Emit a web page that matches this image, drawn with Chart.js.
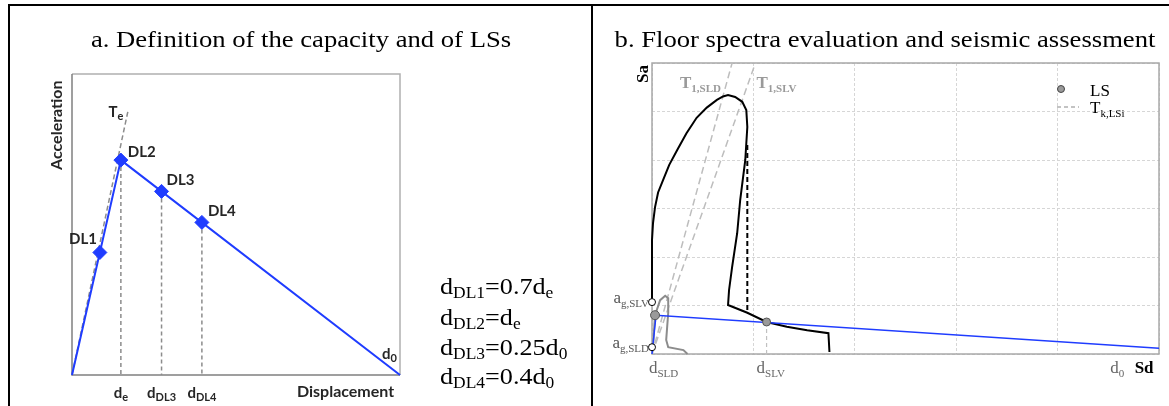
<!DOCTYPE html>
<html>
<head>
<meta charset="utf-8">
<script src="https://cdn.jsdelivr.net/npm/chart.js@4.4.0/dist/chart.umd.min.js"></script>
<style>
  html, body { margin: 0; padding: 0; background: #fff; }
  #page { position: relative; width: 1169px; height: 406px; overflow: hidden; }
  canvas { position: absolute; top: 0; }
  .rule { position: absolute; background: #000; z-index: 2; }
  .title, .eq { position: absolute; font-family: "Liberation Serif", serif; font-size: 24px; line-height: 24px; white-space: nowrap; color: #000; z-index: 2; }
  .title { width: 600px; text-align: center; transform: scaleX(1.11); transform-origin: 50% 50%; }
  .eq { left: 440px; font-size: 24px; transform: scaleX(1.09); transform-origin: 0 50%; }
  .eq span { font-size: 16px; position: relative; top: 4px; }
</style>
</head>
<body>
<div id="page">
  <canvas id="chartA" width="592" height="406" style="left:0"></canvas>
  <canvas id="chartB" width="577" height="406" style="left:592px"></canvas>
  <div class="rule" style="left:8px;top:4px;width:1161px;height:2px"></div>
  <div class="rule" style="left:8px;top:4px;width:2px;height:402px"></div>
  <div class="rule" style="left:591px;top:4px;width:2px;height:402px"></div>
  <div class="title" style="left:1px;top:27px">a. Definition of the capacity and of LSs</div>
  <div class="title" style="left:585px;top:27px">b. Floor spectra evaluation and seismic assessment</div>
  <div class="eq" style="top:274px">d<span>DL1</span>=0.7d<span>e</span></div>
  <div class="eq" style="top:305px">d<span>DL2</span>=d<span>e</span></div>
  <div class="eq" style="top:335px">d<span>DL3</span>=0.25d<span>0</span></div>
  <div class="eq" style="top:364px">d<span>DL4</span>=0.4d<span>0</span></div>
</div>
<script>
// --- panel a: capacity curve, normalised (d0 = 1) ---
const capX = [0, 0.149, 1];
const capY = [0, 0.714, 0];
const teX = [0, 0.172];
const teY = [0, 0.884];
const dlNames = ['DL1', 'DL2', 'DL3', 'DL4'];
const dlX = [0.085, 0.149, 0.273, 0.396];
const dlY = [0.407, 0.714, 0.610, 0.507];
const dropIdx = [1, 2, 3];
const aTickX = [0.149, 0.273, 0.396];
const aTickSub = ['e', 'DL3', 'DL4'];

// --- panel b: floor spectra (grid units) ---
const slvX = [0, 0, 0.01, 0.03, 0.06, 0.11, 0.17, 0.25, 0.34, 0.44, 0.54, 0.64, 0.70, 0.75, 0.82, 0.89, 0.93, 0.94, 0.92, 0.87, 0.84, 0.79, 0.76, 0.75, 0.94, 1.13, 1.33, 1.53, 1.74, 1.75];
const slvY = [1.07, 2.35, 2.70, 3.03, 3.33, 3.59, 3.90, 4.21, 4.55, 4.87, 5.08, 5.24, 5.31, 5.34, 5.30, 5.20, 5.03, 4.68, 4.00, 3.18, 2.49, 1.79, 1.32, 1.01, 0.85, 0.66, 0.56, 0.49, 0.43, 0.04];
const slvDashX = [0.94, 0.94];
const slvDashY = [4.31, 0.85];
const sldX = [0.01, 0.02, 0.03, 0.08, 0.13, 0.16, 0.16, 0.14, 0.16, 0.31, 0.35];
const sldY = [0.14, 0.49, 0.80, 1.11, 1.20, 1.15, 0.85, 0.29, 0.14, 0.08, 0.0];
const capBX = [0, 0.04, 5];
const capBY = [0, 0.80, 0.12];
const t1SldX = [0, 0.79];
const t1SldY = [0, 6];
const t1SlvX = [0, 1.02];
const t1SlvY = [0, 6];
const lsX = [0.03, 1.13];
const lsY = [0.80, 0.66];
const agY = [1.07, 0.14];
const agSub = ['g,SLV', 'g,SLD'];
const d0X = 4.52;

const BLUE = '#1f3cff';
const pts = (xs, ys) => xs.map((x, i) => ({ x, y: ys[i] }));

function drawSub(ctx, x, y, main, sub, o) {
  const mainFont = (o.weight || 'normal') + ' ' + o.size + 'px ' + o.family;
  const subFont = (o.weight || 'normal') + ' ' + o.subSize + 'px ' + o.family;
  ctx.font = mainFont;
  const w1 = ctx.measureText(main).width;
  ctx.font = subFont;
  const w2 = sub ? ctx.measureText(sub).width : 0;
  let x0 = x;
  if (o.align === 'right') x0 = x - w1 - w2;
  else if (o.align === 'center') x0 = x - (w1 + w2) / 2;
  ctx.fillStyle = o.color;
  ctx.textAlign = 'left';
  ctx.textBaseline = 'alphabetic';
  ctx.font = mainFont;
  ctx.fillText(main, x0, y);
  if (sub) {
    ctx.font = subFont;
    ctx.fillText(sub, x0 + w1, y + o.drop);
  }
}

const calibri = { family: 'Lato, sans-serif', weight: 'bold', size: 15, subSize: 11, drop: 3, color: '#262626' };
const times = { family: '"Liberation Serif", serif', size: 17, subSize: 11, drop: 4, color: '#666' };

const panelA = {
  id: 'panelA',
  beforeDatasetsDraw(chart) {
    const ctx = chart.ctx, a = chart.chartArea;
    ctx.save();
    ctx.lineWidth = 1.5;
    ctx.strokeStyle = '#b0b0b0';
    ctx.beginPath();
    ctx.moveTo(a.left, a.top); ctx.lineTo(a.right, a.top); ctx.lineTo(a.right, a.bottom);
    ctx.stroke();
    ctx.strokeStyle = '#808080';
    ctx.beginPath();
    ctx.moveTo(a.left, a.top); ctx.lineTo(a.left, a.bottom); ctx.lineTo(a.right, a.bottom);
    ctx.stroke();
    ctx.restore();
  },
  afterDraw(chart) {
    const ctx = chart.ctx, a = chart.chartArea, sx = chart.scales.x, sy = chart.scales.y;
    ctx.save();
    // DL labels
    const off = [[-3, -8, 'right'], [7, -3, 'left'], [5, -6, 'left'], [6, -6, 'left']];
    dlNames.forEach((n, i) => {
      drawSub(ctx, sx.getPixelForValue(dlX[i]) + off[i][0], sy.getPixelForValue(dlY[i]) + off[i][1], n, '',
        Object.assign({}, calibri, { align: off[i][2] }));
    });
    drawSub(ctx, sx.getPixelForValue(teX[1]) - 20, sy.getPixelForValue(teY[1]) + 8, 'T', 'e', calibri);
    drawSub(ctx, a.right - 3, a.bottom - 16, 'd', '0', Object.assign({}, calibri, { align: 'right' }));

    aTickX.forEach((v, i) => {
      drawSub(ctx, sx.getPixelForValue(v), a.bottom + 23, 'd', aTickSub[i], Object.assign({}, calibri, { align: 'center' }));
    });
    drawSub(ctx, sx.getPixelForValue(0.834), a.bottom + 22, 'Displacement', '', Object.assign({}, calibri, { size: 16, align: 'center' }));

    ctx.translate(57, sy.getPixelForValue(0.83));
    ctx.rotate(-Math.PI / 2);
    ctx.font = 'bold 16px Lato, sans-serif';
    ctx.fillStyle = '#262626';
    ctx.textAlign = 'center';
    ctx.textBaseline = 'middle';
    ctx.fillText('Acceleration', 0, 0);
    ctx.restore();
  }
};

const panelB = {
  id: 'panelB',
  beforeDatasetsDraw(chart) {
    const ctx = chart.ctx, a = chart.chartArea;
    ctx.save();
    ctx.lineWidth = 1.5;
    ctx.strokeStyle = '#a8a8a8';
    ctx.strokeRect(a.left, a.top, a.right - a.left, a.bottom - a.top);
    ctx.restore();
  },
  afterDraw(chart) {
    const ctx = chart.ctx, a = chart.chartArea, sx = chart.scales.x, sy = chart.scales.y;
    ctx.save();
    // LS points and spectral anchors
    lsX.forEach((v, i) => {
      ctx.beginPath();
      ctx.arc(sx.getPixelForValue(v), sy.getPixelForValue(lsY[i]), i === 0 ? 4.5 : 4, 0, Math.PI * 2);
      ctx.fillStyle = '#9a9a9a'; ctx.fill();
      ctx.lineWidth = 1; ctx.strokeStyle = '#555'; ctx.stroke();
    });
    agY.forEach((v, i) => {
      const px = sx.getPixelForValue(0), py = sy.getPixelForValue(v);
      ctx.beginPath();
      ctx.arc(px, py, 3.5, 0, Math.PI * 2);
      ctx.fillStyle = '#fff'; ctx.fill();
      ctx.lineWidth = 1; ctx.strokeStyle = '#000'; ctx.stroke();
      drawSub(ctx, px - 3, py + 1, 'a', agSub[i], Object.assign({}, times, { align: 'right', color: '#555' }));
    });

    const tBold = Object.assign({}, times, { weight: 'bold', color: '#9a9a9a' });
    drawSub(ctx, sx.getPixelForValue(0.276), sy.getPixelForValue(5.48), 'T', '1,SLD', tBold);
    drawSub(ctx, sx.getPixelForValue(1.03), sy.getPixelForValue(5.48), 'T', '1,SLV', tBold);

    drawSub(ctx, sx.getPixelForValue(0) - 3, a.bottom + 19, 'd', 'SLD', times);
    drawSub(ctx, sx.getPixelForValue(lsX[1]) - 10, a.bottom + 19, 'd', 'SLV', times);
    drawSub(ctx, sx.getPixelForValue(d0X), a.bottom + 19, 'd', '0', times);
    drawSub(ctx, sx.getPixelForValue(4.76), a.bottom + 19, 'Sd', '', Object.assign({}, times, { weight: 'bold', color: '#000' }));

    // legend
    ctx.beginPath();
    ctx.arc(a.right - 98, a.top + 26, 3.5, 0, Math.PI * 2);
    ctx.fillStyle = '#9a9a9a'; ctx.fill();
    ctx.lineWidth = 1; ctx.strokeStyle = '#444'; ctx.stroke();
    drawSub(ctx, a.right - 69, a.top + 33, 'LS', '', Object.assign({}, times, { color: '#000' }));
    ctx.setLineDash([4, 3]);
    ctx.lineWidth = 1.5; ctx.strokeStyle = '#b0b0b0';
    ctx.beginPath(); ctx.moveTo(a.right - 102, a.top + 44); ctx.lineTo(a.right - 80, a.top + 44); ctx.stroke();
    ctx.setLineDash([]);
    drawSub(ctx, a.right - 69, a.top + 50, 'T', 'k,LSi', Object.assign({}, times, { color: '#000' }));

    ctx.translate(a.left - 9, a.top + 11);
    ctx.rotate(-Math.PI / 2);
    ctx.font = 'bold 17px "Liberation Serif", serif';
    ctx.fillStyle = '#000';
    ctx.textAlign = 'center';
    ctx.textBaseline = 'alphabetic';
    ctx.fillText('Sa', 0, 5);
    ctx.restore();
  }
};

const hiddenAxis = (min, max, grid) => ({
  type: 'linear', min, max,
  grid: grid ? { color: '#d6d6d6', lineWidth: 1, drawTicks: false } : { display: false, drawTicks: false },
  border: { display: false, dash: [3, 2] },
  ticks: grid ? { display: false, stepSize: 1 } : { display: false }
});

const line = (xs, ys, color, width, dash) => ({
  data: pts(xs, ys), showLine: true, pointRadius: 0, clip: false,
  borderColor: color, borderWidth: width, borderDash: dash || []
});

new Chart(document.getElementById('chartA'), {
  type: 'scatter',
  data: {
    datasets: [
      { data: pts(dlX, dlY), pointStyle: 'rectRot', pointRadius: 7, backgroundColor: BLUE, borderColor: BLUE, borderWidth: 1, clip: false },
      line(capX, capY, BLUE, 2),
      ...dropIdx.map(i => line([dlX[i], dlX[i]], [dlY[i], 0], '#8c8c8c', 1.5, [4, 3])),
      line(teX, teY, '#8c8c8c', 1.5, [5, 3])
    ]
  },
  options: {
    responsive: false, animation: false, events: [],
    layout: { padding: { left: 72, top: 74, right: 192, bottom: 31 } },
    scales: { x: hiddenAxis(0, 1, false), y: hiddenAxis(0, 1, false) },
    plugins: { legend: { display: false }, tooltip: { enabled: false } }
  },
  plugins: [panelA]
});

new Chart(document.getElementById('chartB'), {
  type: 'scatter',
  data: {
    datasets: [
      line(capBX, capBY, BLUE, 1.5),
      line(slvX, slvY, '#000', 2),
      line(slvDashX, slvDashY, '#000', 2, [5, 3]),
      line(sldX, sldY, '#8c8c8c', 2),
      line(t1SldX, t1SldY, '#bdbdbd', 1.5, [7, 4]),
      line(t1SlvX, t1SlvY, '#bdbdbd', 1.5, [7, 4]),
      line([lsX[1], lsX[1]], [lsY[1], 0], '#c0c0c0', 1.2, [4, 3])
    ]
  },
  options: {
    responsive: false, animation: false, events: [],
    layout: { padding: { left: 60, top: 63, right: 10, bottom: 52 } },
    scales: { x: hiddenAxis(0, 5, true), y: hiddenAxis(0, 6, true) },
    plugins: { legend: { display: false }, tooltip: { enabled: false } }
  },
  plugins: [panelB]
});
</script>
</body>
</html>
